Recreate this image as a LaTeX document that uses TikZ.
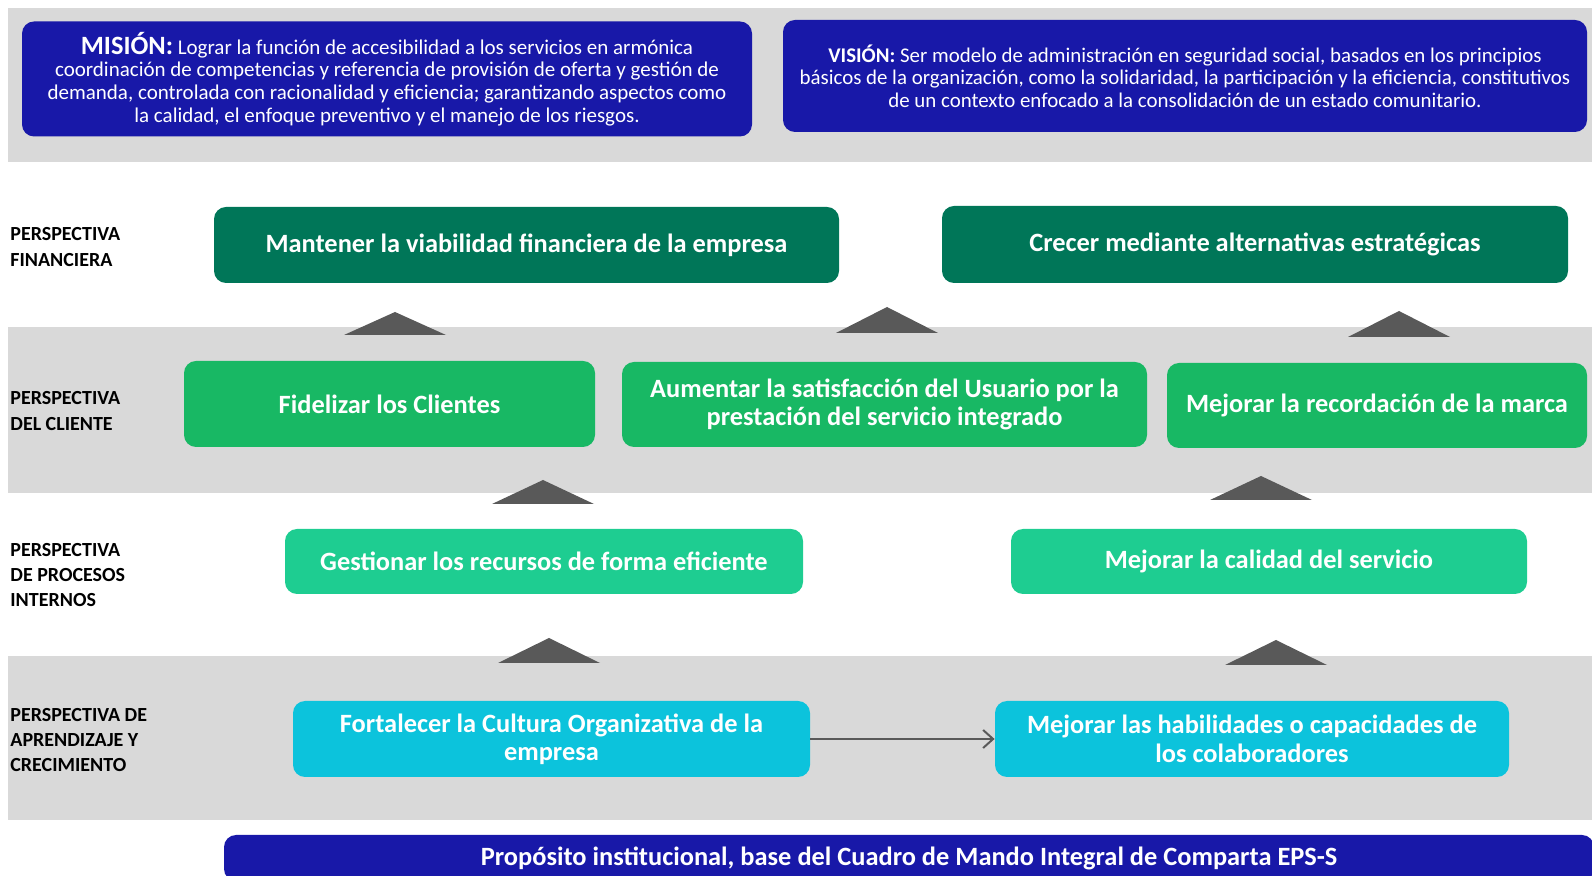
\documentclass[tikz,border=0pt]{standalone}
\usepackage{fontspec}
\setmainfont{Carlito}
\usetikzlibrary{arrows.meta}
\definecolor{navy}{RGB}{24,24,168}
\definecolor{fingreen}{RGB}{0,118,88}
\definecolor{cligreen}{RGB}{24,184,100}
\definecolor{progreen}{RGB}{30,205,145}
\definecolor{learncyan}{RGB}{12,195,220}
\definecolor{bandgray}{RGB}{217,217,217}
\definecolor{trigray}{RGB}{89,89,89}
\begin{document}
\begin{tikzpicture}[x=0.5pt,y=-0.5pt,
  every node/.style={font=\fontsize{13.2}{14.2}\selectfont\bfseries},
  goal/.style={rounded corners=6pt,text=white,align=center,inner sep=0pt},
  lbl/.style={anchor=west,align=left,inner sep=0pt,font=\fontsize{10}{12.7}\selectfont\bfseries},
  statement/.style={goal,fill=navy,font=\fontsize{10.5}{11.3}\selectfont},
  tri/.style={fill=trigray},
  link/.style={draw=trigray,line width=1pt,-{Straight Barb[length=5pt,width=9pt]}}]
\useasboundingbox (0,0) rectangle (1592,876);
% grey bands
\fill[bandgray] (8,8) rectangle (1592,162);
\fill[bandgray] (8,327) rectangle (1592,493);
\fill[bandgray] (8,656) rectangle (1592,820);
% mission and vision
\node[statement,minimum width=365pt,minimum height=57.5pt] (mision) at (387,79)
  {{\fontsize{13.2}{11.3}\selectfont\bfseries MISIÓN:} Lograr la función de accesibilidad a los servicios en armónica\\
   coordinación de competencias y referencia de provisión de oferta y gestión de\\
   demanda, controlada con racionalidad y eficiencia; garantizando aspectos como\\
   la calidad, el enfoque preventivo y el manejo de los riesgos.};
\node[statement,minimum width=402pt,minimum height=56pt,font=\fontsize{10.45}{11.3}\selectfont] (vision) at (1185,76)
  {{\bfseries VISIÓN:} Ser modelo de administración en seguridad social, basados en los principios\\
   básicos de la organización, como la solidaridad, la participación y la eficiencia, constitutivos\\
   de un contexto enfocado a la consolidación de un estado comunitario.};
% perspective labels
\node[lbl] (finlbl) at (10,247) {PERSPECTIVA\\FINANCIERA};
\node[lbl] (clilbl) at (10,411) {PERSPECTIVA\\DEL CLIENTE};
\node[lbl] (prolbl) at (10,575) {PERSPECTIVA\\DE PROCESOS\\INTERNOS};
\node[lbl] (learnlbl) at (10,740) {PERSPECTIVA DE\\APRENDIZAJE Y\\CRECIMIENTO};
% financial
\node[goal,fill=fingreen,minimum width=312.5pt,minimum height=38pt] (mantener) at (526.5,245) {Mantener la viabilidad financiera de la empresa};
\node[goal,fill=fingreen,minimum width=313pt,minimum height=38.5pt] (crecer) at (1255,244.5) {Crecer mediante alternativas estratégicas};
% client
\node[goal,fill=cligreen,minimum width=205.5pt,minimum height=43pt] (fidelizar) at (389.5,404) {Fidelizar los Clientes};
\node[goal,fill=cligreen,minimum width=262.5pt,minimum height=42.5pt] (aumentar) at (884.5,404.5) {Aumentar la satisfacción del Usuario por la\\prestación del servicio integrado};
\node[goal,fill=cligreen,minimum width=210pt,minimum height=42.5pt] (recordacion) at (1377,405.5) {Mejorar la recordación de la marca};
% internal processes
\node[goal,fill=progreen,minimum width=259pt,minimum height=32.5pt] (gestionar) at (544,561.5) {Gestionar los recursos de forma eficiente};
\node[goal,fill=progreen,minimum width=258pt,minimum height=32.5pt] (calidad) at (1269,561.5) {Mejorar la calidad del servicio};
% learning and growth
\node[goal,fill=learncyan,minimum width=258.5pt,minimum height=38pt] (fortalecer) at (551.5,739) {Fortalecer la Cultura Organizativa de la\\empresa};
\node[goal,fill=learncyan,minimum width=257pt,minimum height=38pt] (habilidades) at (1252,739) {Mejorar las habilidades o capacidades de\\los colaboradores};
\draw[link] (fortalecer) -- (habilidades);
% base
\node[goal,fill=navy,minimum width=685pt,minimum height=23pt] (proposito) at (909,858) {Propósito institucional, base del Cuadro de Mando Integral de Comparta EPS-S};
% up triangles
\fill[tri] (344,335) -- (395,312) -- (446,335) -- cycle;
\fill[tri] (836,333) -- (887,307) -- (938,333) -- cycle;
\fill[tri] (1348,337) -- (1399,311) -- (1450,337) -- cycle;
\fill[tri] (492,504) -- (543,480) -- (594,504) -- cycle;
\fill[tri] (1210,500) -- (1261,476) -- (1312,500) -- cycle;
\fill[tri] (498,663) -- (549,638) -- (600,663) -- cycle;
\fill[tri] (1225,665) -- (1276,640) -- (1327,665) -- cycle;
\end{tikzpicture}
\end{document}
